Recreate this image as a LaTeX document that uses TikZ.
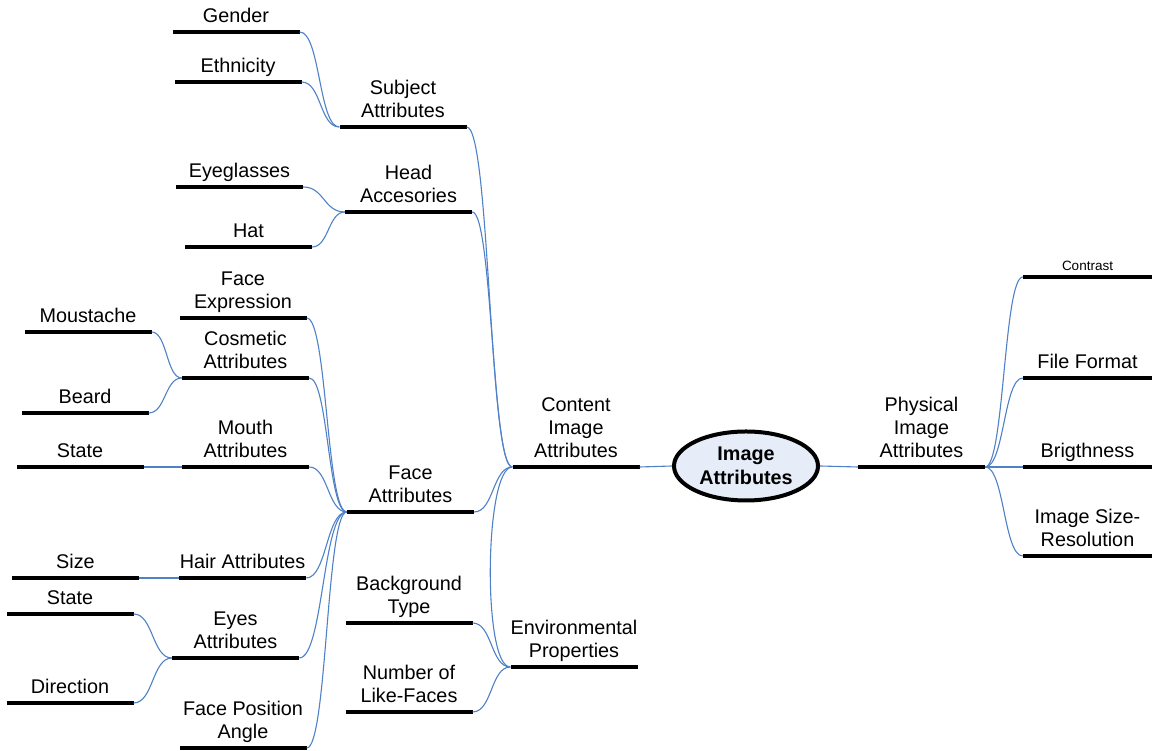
\documentclass[tikz,border=0pt]{standalone}
\usepackage{fontspec}
\setmainfont{Liberation Sans}
\usetikzlibrary{shapes.geometric}
\definecolor{linkblue}{RGB}{79,129,199}
\definecolor{rootfill}{RGB}{230,237,248}
\tikzset{
  bar/.style={fill=black, inner sep=0, minimum height=4, minimum width=#1},
  bar/.default=127,
  lbl/.style={anchor=south, align=center, inner sep=0, font=\fontsize{19.8}{23.3}\selectfont},
  small/.style={font=\fontsize{13.5}{15}\selectfont},
  link/.style={draw=linkblue, line width=1.1},
}
% S-shaped branch from the right end of one bar to the left end of another
\newcommand\branch[3]{\draw[link] (#1.east) .. controls +(#3,0) and +(-#3,0) .. (#2.west);}
\begin{document}
\begin{tikzpicture}[x=1pt,y=1pt]
\useasboundingbox (0,0) rectangle (1152,751);

% ---- bars ----
\node[bar] (gender)     at (236,719) {};
\node[bar] (ethnicity)  at (238,669) {};
\node[bar] (subject)    at (403,624) {};
\node[bar] (eyeglasses) at (239.5,564) {};
\node[bar] (hat)        at (248.5,504) {};
\node[bar] (head)       at (408.5,539) {};
\node[bar] (faceexpr)   at (243,433) {};
\node[bar] (moustache)  at (88,419) {};
\node[bar] (cosmetic)   at (245.5,373) {};
\node[bar] (beard)      at (85,338) {};
\node[bar] (mstate)     at (80,284) {};
\node[bar] (mouth)      at (245.5,284) {};
\node[bar] (face)       at (410.5,239) {};
\node[bar] (size)       at (75.5,173) {};
\node[bar] (hair)       at (242.5,173) {};
\node[bar] (estate)     at (70,137) {};
\node[bar] (eyes)       at (235.5,93) {};
\node[bar] (direction)  at (70,48) {};
\node[bar] (facepos)    at (243,3) {};
\node[bar] (background) at (409,128) {};
\node[bar] (number)     at (409,39) {};
\node[bar] (env)        at (574,84) {};
\node[bar] (content)    at (576,284) {};
\node[bar] (physical)   at (921.5,284) {};
\node[bar=129] (contrast)   at (1087.5,474) {};
\node[bar=129] (fileformat) at (1087.5,373) {};
\node[bar=129] (brightness) at (1087.5,284) {};
\node[bar=129] (imagesize)  at (1087.5,195) {};

% ---- central topic ----
\node[ellipse, draw, line width=4, fill=rootfill, minimum width=144, minimum height=69,
      inner sep=0, align=center, font=\bfseries\fontsize{19.8}{24}\selectfont]
      (root) at (746,285) {Image\\Attributes};

% ---- labels ----
\node[lbl] (gender-t)     at (gender.north)     {Gender\strut};
\node[lbl] (ethnicity-t)  at (ethnicity.north)  {Ethnicity\strut};
\node[lbl] (subject-t)    at (subject.north)    {Subject\\Attributes\strut};
\node[lbl] (eyeglasses-t) at (eyeglasses.north) {Eyeglasses\strut};
\node[lbl] (hat-t)        at (hat.north)        {Hat\strut};
\node[lbl] (head-t)       at (head.north)       {Head\\Accesories\strut};
\node[lbl] (faceexpr-t)   at (faceexpr.north)   {Face\\Expression\strut};
\node[lbl] (moustache-t)  at (moustache.north)  {Moustache\strut};
\node[lbl] (cosmetic-t)   at (cosmetic.north)   {Cosmetic\\Attributes\strut};
\node[lbl] (beard-t)      at (beard.north)      {Beard\strut};
\node[lbl] (mstate-t)     at (mstate.north)     {State\strut};
\node[lbl] (mouth-t)      at (mouth.north)      {Mouth\\Attributes\strut};
\node[lbl] (face-t)       at (face.north)       {Face\\Attributes\strut};
\node[lbl] (size-t)       at (size.north)       {Size\strut};
\node[lbl] (hair-t)       at (hair.north)       {Hair Attributes\strut};
\node[lbl] (estate-t)     at (estate.north)     {State\strut};
\node[lbl] (eyes-t)       at (eyes.north)       {Eyes\\Attributes\strut};
\node[lbl] (direction-t)  at (direction.north)  {Direction\strut};
\node[lbl] (facepos-t)    at (facepos.north)    {Face Position\\Angle\strut};
\node[lbl] (background-t) at (background.north) {Background\\Type\strut};
\node[lbl] (number-t)     at (number.north)     {Number of\\Like-Faces\strut};
\node[lbl] (env-t)        at (env.north)        {Environmental\\Properties\strut};
\node[lbl] (content-t)    at (content.north)    {Content\\Image\\Attributes\strut};
\node[lbl] (physical-t)   at (physical.north)   {Physical\\Image\\Attributes\strut};
\node[lbl,small] (contrast-t) at (contrast.north) {Contrast\strut};
\node[lbl] (fileformat-t) at (fileformat.north) {File Format\strut};
\node[lbl] (brightness-t) at (brightness.north) {Brigthness\strut};
\node[lbl] (imagesize-t)  at (imagesize.north)  {Image Size-\\Resolution\strut};

% ---- connectors ----
\branch{gender}{subject}{20.5}
\branch{ethnicity}{subject}{19.5}
\branch{eyeglasses}{head}{21}
\branch{hat}{head}{16.5}
\branch{subject}{content}{23.5}
\branch{head}{content}{20.5}
\branch{moustache}{cosmetic}{15.5}
\branch{beard}{cosmetic}{17}
\draw[link] (mstate.east) -- (mouth.west);
\branch{faceexpr}{face}{20.5}
\branch{cosmetic}{face}{19}
\branch{mouth}{face}{19}
\branch{hair}{face}{20.5}
\branch{eyes}{face}{24}
\branch{facepos}{face}{20.5}
\draw[link] (size.east) -- (hair.west);
\branch{estate}{eyes}{19.5}
\branch{direction}{eyes}{19.5}
\branch{face}{content}{19.5}
\draw[link] (content.west) .. controls +(-28,0) and +(-28,0) .. (env.west);
\branch{background}{env}{19.5}
\branch{number}{env}{19.5}
\branch{content}{root}{16.5}
\branch{root}{physical}{19}
\branch{physical}{contrast}{19}
\branch{physical}{fileformat}{19}
\branch{physical}{brightness}{19}
\branch{physical}{imagesize}{19}
\end{tikzpicture}
\end{document}
